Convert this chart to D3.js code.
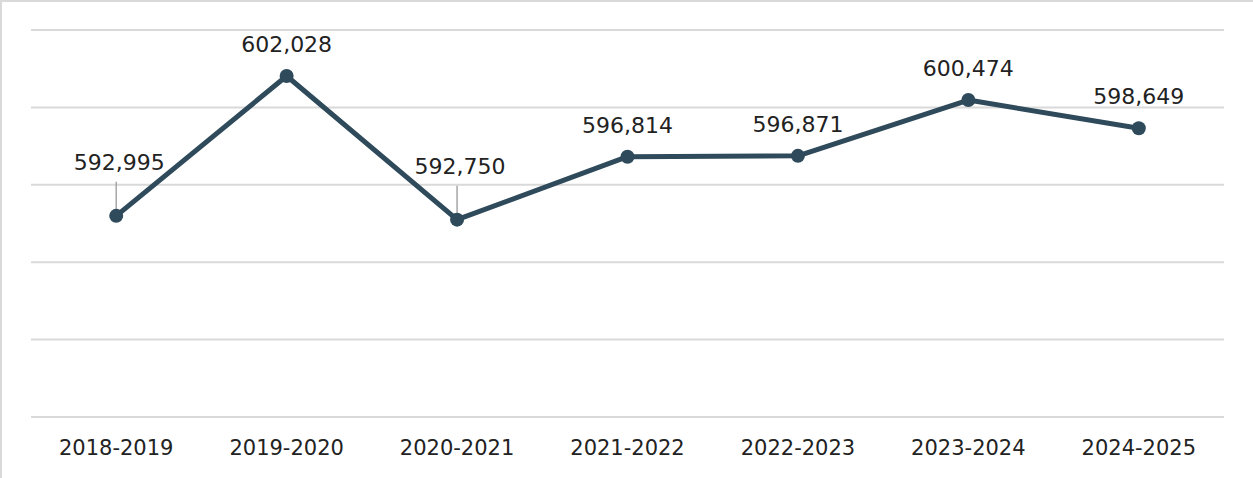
<!DOCTYPE html>
<html>
<head>
<meta charset="utf-8">
<script src="https://cdn.jsdelivr.net/npm/d3@7"></script>
<style>
  html, body { margin: 0; padding: 0; background: #fff; }
  svg { display: block; }
</style>
</head>
<body>
<svg id="chart" width="1253" height="478"></svg>
<script>
const categories = ["2018-2019", "2019-2020", "2020-2021", "2021-2022", "2022-2023", "2023-2024", "2024-2025"];
const values = [592995, 602028, 592750, 596814, 596871, 600474, 598649];
const yTicks = [580000, 585000, 590000, 595000, 600000, 605000];
const leaderIdx = [0, 2];

const W = 1253, H = 478;
const m = { left: 31, right: 29, top: 30, bottom: 61 };
const svg = d3.select("#chart");
const fontFamily = "'DejaVu Sans', sans-serif";

// frame (left + top border)
svg.append("path")
  .attr("d", `M1,${H} L1,1 L${W},1`)
  .attr("fill", "none")
  .attr("stroke", "#d9d9d9")
  .attr("stroke-width", 2);

const x = d3.scaleBand().domain(categories).range([m.left, W - m.right]);
const y = d3.scaleLinear().domain([580000, 605000]).range([H - m.bottom, m.top]);

// gridlines
svg.append("g").selectAll("line").data(yTicks).join("line")
  .attr("x1", m.left).attr("x2", W - m.right)
  .attr("y1", d => y(d)).attr("y2", d => y(d))
  .attr("stroke", "#d9d9d9").attr("stroke-width", 2);

// x axis labels
const xAxis = d3.axisBottom(x).tickSize(0).tickPadding(0);
const gx = svg.append("g").attr("transform", `translate(0,${H - m.bottom})`).call(xAxis);
gx.select(".domain").remove();
gx.selectAll("text")
  .attr("y", 38).attr("dy", 0)
  .attr("font-family", fontFamily).attr("font-size", 21)
  .attr("fill", "#222");

const cx = d => x(d) + x.bandwidth() / 2;
const pts = categories.map((c, i) => ({ c, v: values[i], i }));

// leader lines
svg.append("g").selectAll("line").data(pts.filter(p => leaderIdx.includes(p.i))).join("line")
  .attr("x1", p => cx(p.c)).attr("x2", p => cx(p.c))
  .attr("y1", p => y(p.v) - 34).attr("y2", p => y(p.v) - 3)
  .attr("stroke", "#a6a6a6").attr("stroke-width", 1.5);

// line
const line = d3.line().x(p => cx(p.c)).y(p => y(p.v));
svg.append("path").datum(pts)
  .attr("d", line)
  .attr("fill", "none")
  .attr("stroke", "#2e4a5b")
  .attr("stroke-width", 5)
  .attr("stroke-linejoin", "round");

// markers
svg.append("g").selectAll("circle").data(pts).join("circle")
  .attr("cx", p => cx(p.c)).attr("cy", p => y(p.v)).attr("r", 7)
  .attr("fill", "#2e4a5b");

// value labels
const fmt = d3.format(",");
svg.append("g").selectAll("text").data(pts).join("text")
  .attr("x", p => cx(p.c) + (leaderIdx.includes(p.i) ? 3 : 0))
  .attr("y", p => y(p.v) - (leaderIdx.includes(p.i) ? 46 : 24))
  .attr("text-anchor", "middle")
  .attr("font-family", fontFamily).attr("font-size", 22)
  .attr("fill", "#222")
  .text(p => fmt(p.v));
</script>
</body>
</html>
